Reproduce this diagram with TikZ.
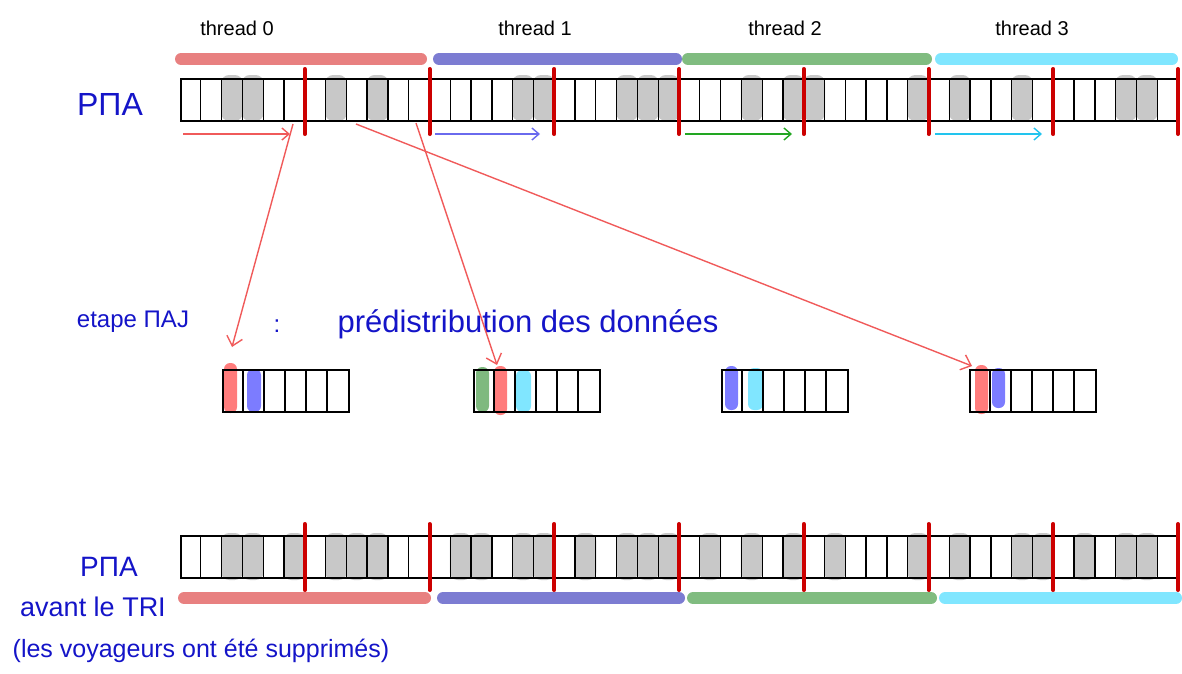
\documentclass[tikz,border=0pt]{standalone}
\usepackage{fontspec}
\setmainfont{Liberation Sans}
\usetikzlibrary{arrows.meta}
\definecolor{tred}{HTML}{E88080}
\definecolor{tblue}{HTML}{7C7CD2}
\definecolor{tgreen}{HTML}{80BC80}
\definecolor{tcyan}{HTML}{80E6FF}
\definecolor{sepred}{HTML}{CC0000}
\definecolor{arrred}{HTML}{F05A5A}
\definecolor{ink}{HTML}{1414C8}
\definecolor{blobgray}{HTML}{C8C8C8}
\definecolor{bred}{HTML}{FF7C7C}
\definecolor{bblue}{HTML}{7C7CFF}
\definecolor{bgreen}{HTML}{7FB97F}
\definecolor{bcyan}{HTML}{80E6FF}
\definecolor{ablue}{HTML}{6A6AEE}
\definecolor{agreen}{HTML}{22A622}
\definecolor{acyan}{HTML}{22C4EE}
\tikzset{
  arraybox/.style={draw=black, line width=1.6pt, inner sep=0pt, anchor=north west, fill=none},
  cellline/.style={draw=black, line width=1.3pt},
  sepbar/.style={draw=sepred, line width=4pt, line cap=round},
  threadbar/.style={line width=12pt, line cap=round},
  blob/.style={fill=blobgray, rounded corners=8pt},
  cblob/.style={rounded corners=6pt},
  bigarrow/.style={draw=arrred, line width=1.4pt, -{Straight Barb[length=9pt,width=16pt]}},
  smallarrow/.style={line width=1.4pt, -{Straight Barb[length=7pt,width=12pt]}},
  thrlabel/.style={font=\fontsize{20}{22}\selectfont, text=black},
  bluelabel/.style={text=ink}
}
\begin{document}
\begin{tikzpicture}[x=1pt,y=-1pt]
\useasboundingbox (0,0) rectangle (1182,673);
\def\w{20.7917}
% ---------- thread labels ----------
\node[thrlabel] (t0) at (237,28) {thread 0};
\node[thrlabel] (t1) at (535,28) {thread 1};
\node[thrlabel] (t2) at (785,28) {thread 2};
\node[thrlabel] (t3) at (1032,28) {thread 3};
% ---------- top thread bars ----------
\draw[threadbar, tred] (181,59) -- (421,59);
\draw[threadbar, tblue] (439,59) -- (676,59);
\draw[threadbar, tgreen] (688,59) -- (926,59);
\draw[threadbar, tcyan] (941,59) -- (1172,59);
% ---------- top array ----------
\foreach \i in {2,3,7,9,16,17,21,22,23,27,29,30,35,37,40,45,46}
  \fill[blob] ({180+\i*\w-0.5},75) rectangle ({180+(\i+1)*\w+0.5},121);
\node[arraybox, minimum width=998pt, minimum height=42pt] (toparr) at (180,78) {};
\foreach \i in {1,...,47}
  \draw[cellline] ({180+\i*\w},78) -- ({180+\i*\w},120);
\foreach \i in {6,12,...,48}
  \draw[sepbar] ({180+\i*\w},69) -- ({180+\i*\w},134);
\node[bluelabel, font=\fontsize{32}{34}\selectfont] (pna1) at (110,104) {PΠA};
% small thread arrows
\coordinate (s0a) at (183,134); \coordinate (s0b) at (290,134);
\coordinate (s1a) at (435,134); \coordinate (s1b) at (540,134);
\coordinate (s2a) at (685,134); \coordinate (s2b) at (792,134);
\coordinate (s3a) at (935,134); \coordinate (s3b) at (1042,134);
\draw[smallarrow, arrred] (s0a) -- (s0b);
\draw[smallarrow, ablue] (s1a) -- (s1b);
\draw[smallarrow, agreen] (s2a) -- (s2b);
\draw[smallarrow, acyan] (s3a) -- (s3b);
% ---------- middle label ----------
\node[bluelabel, font=\fontsize{24}{26}\selectfont] (maj) at (133,322) {etape ΠAJ};
\node[bluelabel, font=\fontsize{24}{26}\selectfont] (colon) at (277,326) {:};
\node[bluelabel, font=\fontsize{31}{33}\selectfont] (predist) at (528,324) {prédistribution des données};
% ---------- small arrays ----------
\fill[cblob, bred] (224,363) rectangle (237,413);
\fill[cblob, bblue] (247,369) rectangle (261,412);
\fill[cblob, bgreen] (476,367) rectangle (489,412);
\fill[cblob, bred] (494,366) rectangle (507,415);
\fill[cblob, bcyan] (516,370) rectangle (531,412);
\fill[cblob, bblue] (725,366) rectangle (738,410);
\fill[cblob, bcyan] (748,368) rectangle (763,410);
\fill[cblob, bred] (975,365) rectangle (988,414);
\fill[cblob, bblue] (992,368) rectangle (1005,408);
\foreach \n/\x in {sa/222, sb/473, sc/721, sd/969} {
  \node[arraybox, minimum width=126pt, minimum height=42pt] (\n) at (\x,369) {};
  \foreach \k in {1,...,5}
    \draw[cellline] ({\x+\k*21},369) -- ({\x+\k*21},411);
}
% ---------- big red arrows ----------
\coordinate (b1s) at (293,124); \coordinate (b1e) at (232,347);
\coordinate (b2s) at (416,123); \coordinate (b2e) at (497,365);
\coordinate (b3s) at (356,124); \coordinate (b3e) at (972,366);
\draw[bigarrow] (b1s) -- (b1e);
\draw[bigarrow] (b2s) -- (b2e);
\draw[bigarrow] (b3s) -- (b3e);
% ---------- bottom array ----------
\foreach \i in {2,3,5,7,8,9,13,14,16,17,19,21,22,23,25,27,29,31,35,37,40,41,43,45,46}
  \fill[blob] ({180+\i*\w-0.5},533) rectangle ({180+(\i+1)*\w+0.5},580);
\node[arraybox, minimum width=998pt, minimum height=42pt] (botarr) at (180,535) {};
\foreach \i in {1,...,47}
  \draw[cellline] ({180+\i*\w},535) -- ({180+\i*\w},577);
\foreach \i in {6,12,...,48}
  \draw[sepbar] ({180+\i*\w},524) -- ({180+\i*\w},590);
\draw[threadbar, tred] (184,598) -- (425,598);
\draw[threadbar, tblue] (443,598) -- (679,598);
\draw[threadbar, tgreen] (693,598) -- (931,598);
\draw[threadbar, tcyan] (945,598) -- (1176,598);
\node[bluelabel, font=\fontsize{28}{30}\selectfont] (pna2) at (109,567) {PΠA};
\node[bluelabel, font=\fontsize{27}{29}\selectfont] (avant) at (93,607) {avant le TRI};
\node[bluelabel, font=\fontsize{25}{27}\selectfont] (voy) at (201,651) {(les voyageurs ont été supprimés)};
\end{tikzpicture}
\end{document}
